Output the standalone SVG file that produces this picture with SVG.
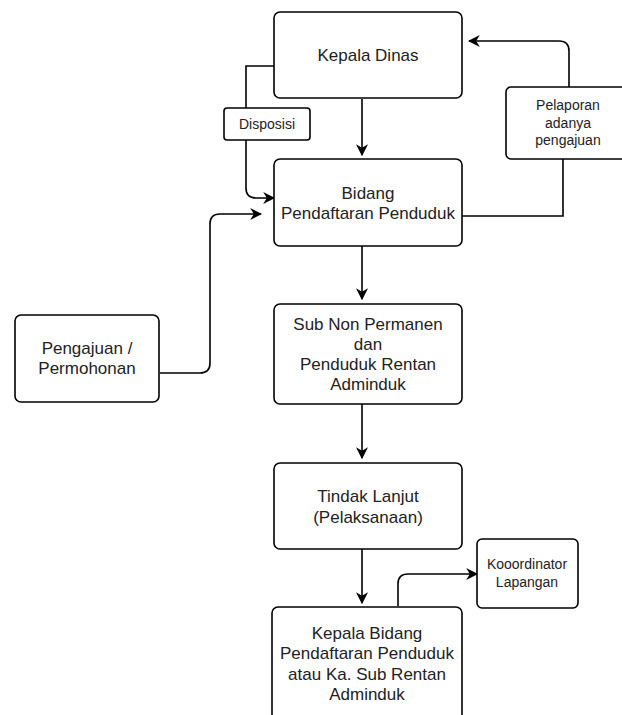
<svg xmlns="http://www.w3.org/2000/svg" width="622" height="715" viewBox="0 0 622 715">
<defs>
<marker id="ah" viewBox="0 0 10 10" refX="9" refY="5" markerWidth="12" markerHeight="12" markerUnits="userSpaceOnUse" orient="auto">
<path d="M0,0 L10,5 L0,10 L3,5 Z" fill="#000"/>
</marker>
<style>
.box{fill:#fff;stroke:#000;stroke-width:1.6}
.t{font-family:"Liberation Sans",Arial,sans-serif;font-size:17px;fill:#222;text-anchor:middle}
.s{font-family:"Liberation Sans",Arial,sans-serif;font-size:14px;fill:#222;text-anchor:middle}
.c{fill:none;stroke:#000;stroke-width:1.6}
</style>
</defs>
<rect width="622" height="715" fill="#fff"/>
<g id="connectors">
<path class="c" d="M362,99 L362,155" marker-end="url(#ah)"/>
<path class="c" d="M274,66 L246,66 L246,188 Q246,198 256,198 L274,198" marker-end="url(#ah)"/>
<path class="c" d="M462,216 L563,216 L563,159"/>
<path class="c" d="M569,87 L569,51 Q569,41 559,41 L469,41" marker-end="url(#ah)"/>
<path class="c" d="M160,373 L200,373 Q210,373 210,363 L210,224 Q210,214 220,214 L261,214" marker-end="url(#ah)"/>
<path class="c" d="M362,246 L362,299" marker-end="url(#ah)"/>
<path class="c" d="M362,404 L362,458" marker-end="url(#ah)"/>
<path class="c" d="M362,549 L362,603" marker-end="url(#ah)"/>
<path class="c" d="M398,606 L398,584 Q398,574 408,574 L477,574" marker-end="url(#ah)"/>
</g>
<g id="kepala-dinas">
<rect class="box" x="274" y="12" width="188" height="86" rx="6"/>
<text class="t" x="368" y="61">Kepala Dinas</text>
</g>
<g id="disposisi">
<rect class="box" x="224" y="108" width="86" height="32" rx="3"/>
<text class="s" x="267" y="129">Disposisi</text>
</g>
<g id="pelaporan">
<rect class="box" x="506" y="87" width="126" height="72" rx="5"/>
<text class="s" x="568" y="110">Pelaporan</text>
<text class="s" x="568" y="128">adanya</text>
<text class="s" x="568" y="145">pengajuan</text>
</g>
<g id="bidang">
<rect class="box" x="274" y="159" width="188" height="87" rx="6"/>
<text class="t" x="368" y="199">Bidang</text>
<text class="t" x="368" y="219">Pendaftaran Penduduk</text>
</g>
<g id="pengajuan">
<rect class="box" x="15" y="315" width="144" height="87" rx="6"/>
<text class="t" x="87" y="354">Pengajuan /</text>
<text class="t" x="87" y="374">Permohonan</text>
</g>
<g id="sub">
<rect class="box" x="274" y="304" width="188" height="100" rx="6"/>
<text class="t" x="368" y="330">Sub Non Permanen</text>
<text class="t" x="368" y="350">dan</text>
<text class="t" x="368" y="370">Penduduk Rentan</text>
<text class="t" x="368" y="390">Adminduk</text>
</g>
<g id="tindak">
<rect class="box" x="274" y="463" width="188" height="86" rx="6"/>
<text class="t" x="368" y="502">Tindak Lanjut</text>
<text class="t" x="368" y="523">(Pelaksanaan)</text>
</g>
<g id="koordinator">
<rect class="box" x="477" y="539" width="101" height="69" rx="5"/>
<text class="s" x="527" y="569">Kooordinator</text>
<text class="s" x="527" y="587">Lapangan</text>
</g>
<g id="kepala-bidang">
<rect class="box" x="272" y="607" width="190" height="120" rx="6"/>
<text class="t" x="367" y="639">Kepala Bidang</text>
<text class="t" x="367" y="659">Pendaftaran Penduduk</text>
<text class="t" x="367" y="680">atau Ka. Sub Rentan</text>
<text class="t" x="367" y="700">Adminduk</text>
</g>
</svg>
